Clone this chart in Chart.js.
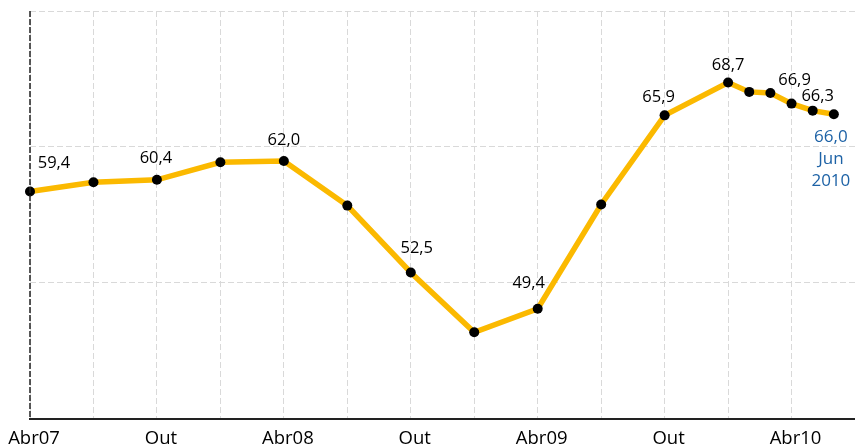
<!DOCTYPE html>
<html>
<head>
<meta charset="utf-8">
<script src="https://cdn.jsdelivr.net/npm/chart.js@4"></script>
<style>
  html, body { margin: 0; padding: 0; background: #fff; overflow: hidden; }
  canvas { display: block; }
</style>
</head>
<body>
<canvas id="lineChart" width="855" height="446"></canvas>
<script>
// dados
const tickLabels = ['Abr07', 'Out', 'Abr08', 'Out', 'Abr09', 'Out', 'Abr10'];
const months = [0, 3, 6, 9, 12, 15, 18, 21, 24, 27, 30, 33, 34, 35, 36, 37, 38];
const values = [59.4, 60.2, 60.4, 61.9, 62.0, 58.2, 52.5, 47.4, 49.4, 58.3, 65.9, 68.7, 67.9, 67.8, 66.9, 66.3, 66.0];
const labelled = [0, 2, 4, 6, 8, 10, 11, 14, 15, 16];
const lastNote = ['Jun', '2010'];
const yTicks = [40, 51.6, 63.2, 74.8];

const FONT = '"Open Sans", sans-serif';

// eixo vertical tracejado
const leftAxis = {
    id: 'leftAxis',
    afterDatasetsDraw(chart) {
        const a = chart.chartArea;
        const ctx = chart.ctx;
        ctx.save();
        ctx.strokeStyle = '#222';
        ctx.lineWidth = 1.5;
        ctx.setLineDash([6, 2]);
        ctx.beginPath();
        ctx.moveTo(a.left, a.top);
        ctx.lineTo(a.left, a.bottom);
        ctx.stroke();
        ctx.restore();
    }
};

// rotulos dos pontos
const pointLabels = {
    id: 'pointLabels',
    afterDatasetsDraw(chart) {
        const ctx = chart.ctx;
        const pts = chart.getDatasetMeta(0).data;
        const offs = {0: [24, -28], 2: [-1, -22], 4: [0, -21], 6: [6, -24], 8: [-9, -25],
                      10: [-6, -18], 11: [0, -17], 14: [3, -23], 15: [5, -14], 16: [-3, 23]};
        const last = values.length - 1;
        ctx.save();
        ctx.textAlign = 'center';
        ctx.textBaseline = 'middle';
        labelled.forEach(i => {
            const p = pts[i];
            const o = offs[i] || [0, -22];
            const txt = values[i].toFixed(1).replace('.', ',');
            if (i === last) {
                ctx.fillStyle = '#1d62a6';
                ctx.font = '17px ' + FONT;
                ctx.fillText(txt, p.x + o[0], p.y + o[1]);
                lastNote.forEach((t, k) => {
                    ctx.fillText(t, p.x + o[0], p.y + o[1] + 22 * (k + 1));
                });
            } else {
                ctx.fillStyle = '#000';
                ctx.font = '16.5px ' + FONT;
                ctx.fillText(txt, p.x + o[0], p.y + o[1]);
            }
        });
        ctx.restore();
    }
};

new Chart(document.getElementById('lineChart'), {
    type: 'line',
    data: {
        datasets: [{
            data: months.map((m, i) => ({x: m, y: values[i]})),
            borderColor: '#fbb900',
            borderWidth: 5.5,
            pointBackgroundColor: '#000',
            pointBorderColor: '#000',
            pointRadius: 5,
            pointBorderWidth: 0,
            tension: 0,
            clip: false
        }]
    },
    options: {
        responsive: false,
        animation: false,
        devicePixelRatio: 1,
        layout: { autoPadding: false, padding: { top: 11, left: 0, right: 0, bottom: 0 } },
        plugins: {
            legend: { display: false },
            tooltip: { enabled: false }
        },
        scales: {
            x: {
                type: 'linear',
                min: 0,
                max: 39,
                afterFit: s => { s.height = 27; s.paddingLeft = 0; s.paddingRight = 0; },
                afterBuildTicks: s => {
                    const t = [];
                    for (let m = 0; m <= 39; m += 3) t.push({value: m});
                    s.ticks = t;
                },
                ticks: {
                    autoSkip: false,
                    maxRotation: 0,
                    padding: 9,
                    labelOffset: 4,
                    color: '#000',
                    font: { family: FONT, size: 18.5 },
                    callback: v => (v % 6 === 0 ? (tickLabels[v / 6] || '') : '')
                },
                grid: {
                    color: '#d9d9d9',
                    lineWidth: 1,
                    drawTicks: false
                },
                border: { display: true, color: '#222', width: 2, dash: [6, 3] }
            },
            y: {
                min: 40,
                max: 74.8,
                afterFit: s => { s.width = 30; },
                afterBuildTicks: s => { s.ticks = yTicks.map(v => ({value: v})); },
                ticks: { display: false },
                grid: {
                    color: '#d9d9d9',
                    lineWidth: 1,
                    drawTicks: false
                },
                border: { display: false, dash: [6, 3] }
            }
        }
    },
    plugins: [leftAxis, pointLabels]
});
</script>
</body>
</html>
